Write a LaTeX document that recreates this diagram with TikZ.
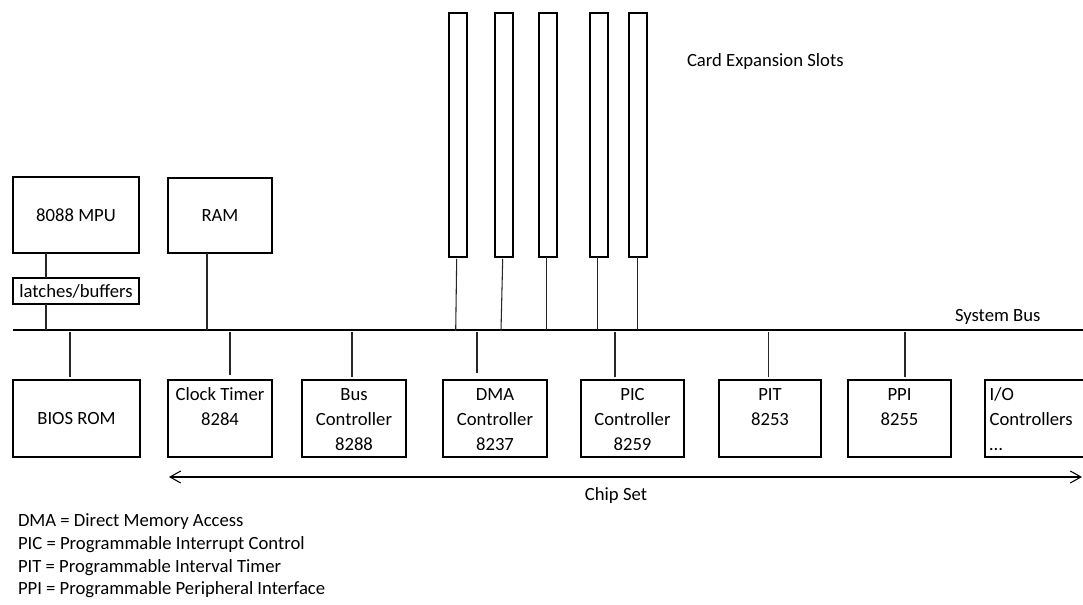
\documentclass[tikz,border=0pt]{standalone}
\usepackage{fontspec}
\setmainfont{Carlito}
\usetikzlibrary{arrows.meta}
\begin{document}
\begin{tikzpicture}[x=0.75pt,y=-0.75pt,
  every node/.style={font=\fontsize{14}{18.75}\selectfont, inner sep=0pt, outer sep=0pt},
  box/.style={draw, line width=1.5pt, minimum height=57.5pt},
  slot/.style={draw, line width=1.1pt, minimum width=13.5pt, minimum height=183pt},
  toptext/.style={label={[anchor=north, align=center, yshift=-1.9pt]north:#1}},
  wire/.style={line width=0.8pt, draw=black!85},
  busline/.style={line width=2pt},
  plain/.style={anchor=base west}
]
\clip (0,0) rectangle (1083,605);
\fill[white] (0,0) rectangle (1083,605);

% upper row
\node[box, minimum width=94.5pt, minimum height=57pt] (mpu) at (76,215) {8088 MPU};
\node[box, minimum width=94.5pt, minimum height=19.5pt] (latch) at (76,291) {latches/buffers};
\node[box, minimum width=78pt, minimum height=56.25pt] (ram) at (220,215.5) {RAM};

% expansion slots
\node[slot] (s1) at (458,135) {};
\node[slot] (s2) at (504,135) {};
\node[slot] (s3) at (548,135) {};
\node[slot] (s4) at (599,135) {};
\node[slot] (s5) at (638,135) {};
\node[plain] (cardlbl) at (687,67) {Card Expansion Slots};

% system bus
\coordinate (busL) at (13,330);
\coordinate (busR) at (1083,330);
\draw[busline] (busL) -- (busR);
\node[plain] (buslbl) at (955,322) {System Bus};

% bottom row
\node[box, minimum width=95.25pt] (bios) at (76.5,418.5) {BIOS ROM};
\node[box, minimum width=78pt, toptext={\strut Clock Timer\\8284}] (clock) at (220,418.5) {};
\node[box, minimum width=78pt, toptext={\strut Bus\\Controller\\8288}] (busc) at (354,418.5) {};
\node[box, minimum width=78pt, toptext={\strut DMA\\Controller\\8237}] (dma) at (495,418.5) {};
\node[box, minimum width=77.25pt, toptext={\strut PIC\\Controller\\8259}] (pic) at (632.5,418.5) {};
\node[box, minimum width=76.5pt, toptext={\strut PIT\\8253}] (pit) at (770,418.5) {};
\node[box, minimum width=77.25pt, toptext={\strut PPI\\8255}] (ppi) at (899.5,418.5) {};
\node[box, minimum width=78pt,
  label={[anchor=north west, align=left, xshift=3.5pt, yshift=-1.9pt]north west:\strut I/O\\Controllers\\…}] (io) at (1037,418.5) {};

% connectors above the bus
\coordinate (jm) at (46,330);
\draw[wire] (jm |- mpu.south) -- (jm |- latch.north);
\draw[wire] (jm |- latch.south) -- (jm);
\coordinate (jr) at (207,330);
\draw[wire] (jr |- ram.south) -- (jr);

\coordinate (t1) at (456.7,259);
\coordinate (b1) at (455.7,331);
\coordinate (t2) at (502.7,259);
\coordinate (b2) at (501,331);
\coordinate (b3) at (546.7,330);
\coordinate (b4) at (597.7,330);
\coordinate (b5) at (637.7,330);
\draw[wire] (t1) -- (b1);
\draw[wire] (t2) -- (b2);
\draw[wire] (b3 |- s3.south) -- (b3);
\draw[wire] (b4 |- s4.south) -- (b4);
\draw[wire] (b5 |- s5.south) -- (b5);

% connectors below the bus
\foreach \n/\x/\g in {bios/70/2.25pt, clock/230/3.5pt, busc/352/2.25pt, dma/477/5pt, pic/615/2.25pt, pit/768.5/2.25pt, ppi/905/2.25pt}{
  \coordinate (j\n) at (\x,332);
  \draw[wire, shorten >=\g] (j\n) -- (j\n |- \n.north);
}

% chip set arrow
\coordinate (aL) at (169,477);
\coordinate (aR) at (1082,477);
\draw[line width=0.8pt, {Straight Barb[length=8pt,width=9pt]}-{Straight Barb[length=8pt,width=9pt]}] (aL) -- (aR);
\node[anchor=base] (chiplbl) at (616,501) {Chip Set};

% legend
\node[plain] (l1) at (18,527) {DMA = Direct Memory Access};
\node[plain] (l2) at (18,550) {PIC = Programmable Interrupt Control};
\node[plain] (l3) at (18,573) {PIT = Programmable Interval Timer};
\node[plain] (l4) at (18,595) {PPI = Programmable Peripheral Interface};
\end{tikzpicture}
\end{document}
